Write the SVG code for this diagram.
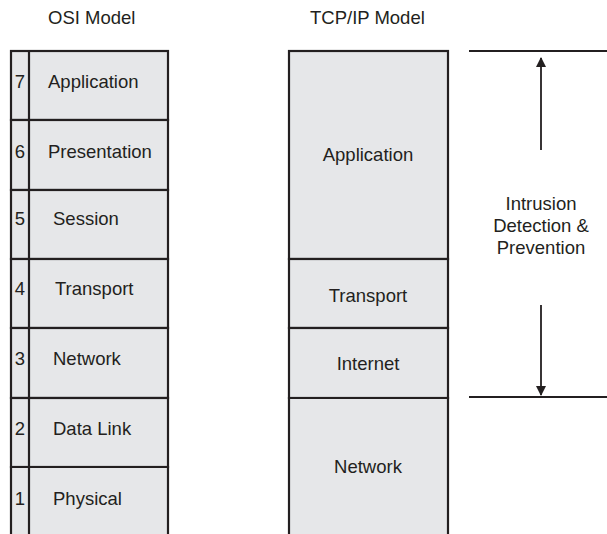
<svg xmlns="http://www.w3.org/2000/svg" width="607" height="534" viewBox="0 0 607 534">
<defs>
<style>
.box{fill:#e6e7e9;stroke:#231f20;stroke-width:2.2}
.ln{stroke:#231f20;stroke-width:2.2;fill:none}
.t{font-family:"Liberation Sans",Arial,sans-serif;font-size:18.5px;fill:#231f20}
.c{text-anchor:middle}
.arr{stroke:#231f20;stroke-width:1.8;fill:none}
</style>
<marker id="ah" viewBox="0 0 10 10" refX="9" refY="5" markerWidth="10" markerHeight="10" markerUnits="userSpaceOnUse" orient="auto">
<path d="M0,0 L10,5 L0,10 z" fill="#231f20"/>
</marker>
</defs>
<rect width="607" height="534" fill="#ffffff"/>
<text class="t" x="48" y="24">OSI Model</text>
<text class="t" x="310" y="24">TCP/IP Model</text>

<g id="osi7"><rect class="box" x="11" y="51" width="157" height="69"/><line class="ln" x1="29" y1="51" x2="29" y2="120"/><text class="t c" x="20" y="88">7</text><text class="t" x="48" y="88">Application</text></g>
<g id="osi6"><rect class="box" x="11" y="120" width="157" height="70"/><line class="ln" x1="29" y1="120" x2="29" y2="190"/><text class="t c" x="20" y="158">6</text><text class="t" x="48" y="158">Presentation</text></g>
<g id="osi5"><rect class="box" x="11" y="190" width="157" height="69"/><line class="ln" x1="29" y1="190" x2="29" y2="259"/><text class="t c" x="20" y="225">5</text><text class="t" x="53" y="225">Session</text></g>
<g id="osi4"><rect class="box" x="11" y="259" width="157" height="69"/><line class="ln" x1="29" y1="259" x2="29" y2="328"/><text class="t c" x="20" y="295">4</text><text class="t" x="55" y="295">Transport</text></g>
<g id="osi3"><rect class="box" x="11" y="328" width="157" height="70"/><line class="ln" x1="29" y1="328" x2="29" y2="398"/><text class="t c" x="20" y="365">3</text><text class="t" x="53" y="365">Network</text></g>
<g id="osi2"><rect class="box" x="11" y="398" width="157" height="69"/><line class="ln" x1="29" y1="398" x2="29" y2="467"/><text class="t c" x="20" y="435">2</text><text class="t" x="53" y="435">Data Link</text></g>
<g id="osi1"><path d="M11,536 V467 H168 V536" class="box"/><line class="ln" x1="29" y1="467" x2="29" y2="536"/><text class="t c" x="20" y="505">1</text><text class="t" x="53" y="505">Physical</text></g>

<g id="tcp-app"><rect class="box" x="289" y="51" width="159" height="208"/><text class="t c" x="368" y="161">Application</text></g>
<g id="tcp-transport"><rect class="box" x="289" y="259" width="159" height="69"/><text class="t c" x="368" y="302">Transport</text></g>
<g id="tcp-internet"><rect class="box" x="289" y="328" width="159" height="70"/><text class="t c" x="368" y="370">Internet</text></g>
<g id="tcp-network"><path d="M289,536 V398 H448 V536" class="box"/><text class="t c" x="368" y="473">Network</text></g>

<g id="ids-label"><text class="t c" x="541" y="210">Intrusion</text><text class="t c" x="541" y="232">Detection &amp;</text><text class="t c" x="541" y="254">Prevention</text></g>

<g id="connectors">
<line class="ln" x1="469" y1="51" x2="607" y2="51"/>
<line class="ln" x1="469" y1="397" x2="607" y2="397"/>
<line class="arr" x1="541" y1="150" x2="541" y2="58" marker-end="url(#ah)"/>
<line class="arr" x1="541" y1="305" x2="541" y2="395" marker-end="url(#ah)"/>
</g>
</svg>
